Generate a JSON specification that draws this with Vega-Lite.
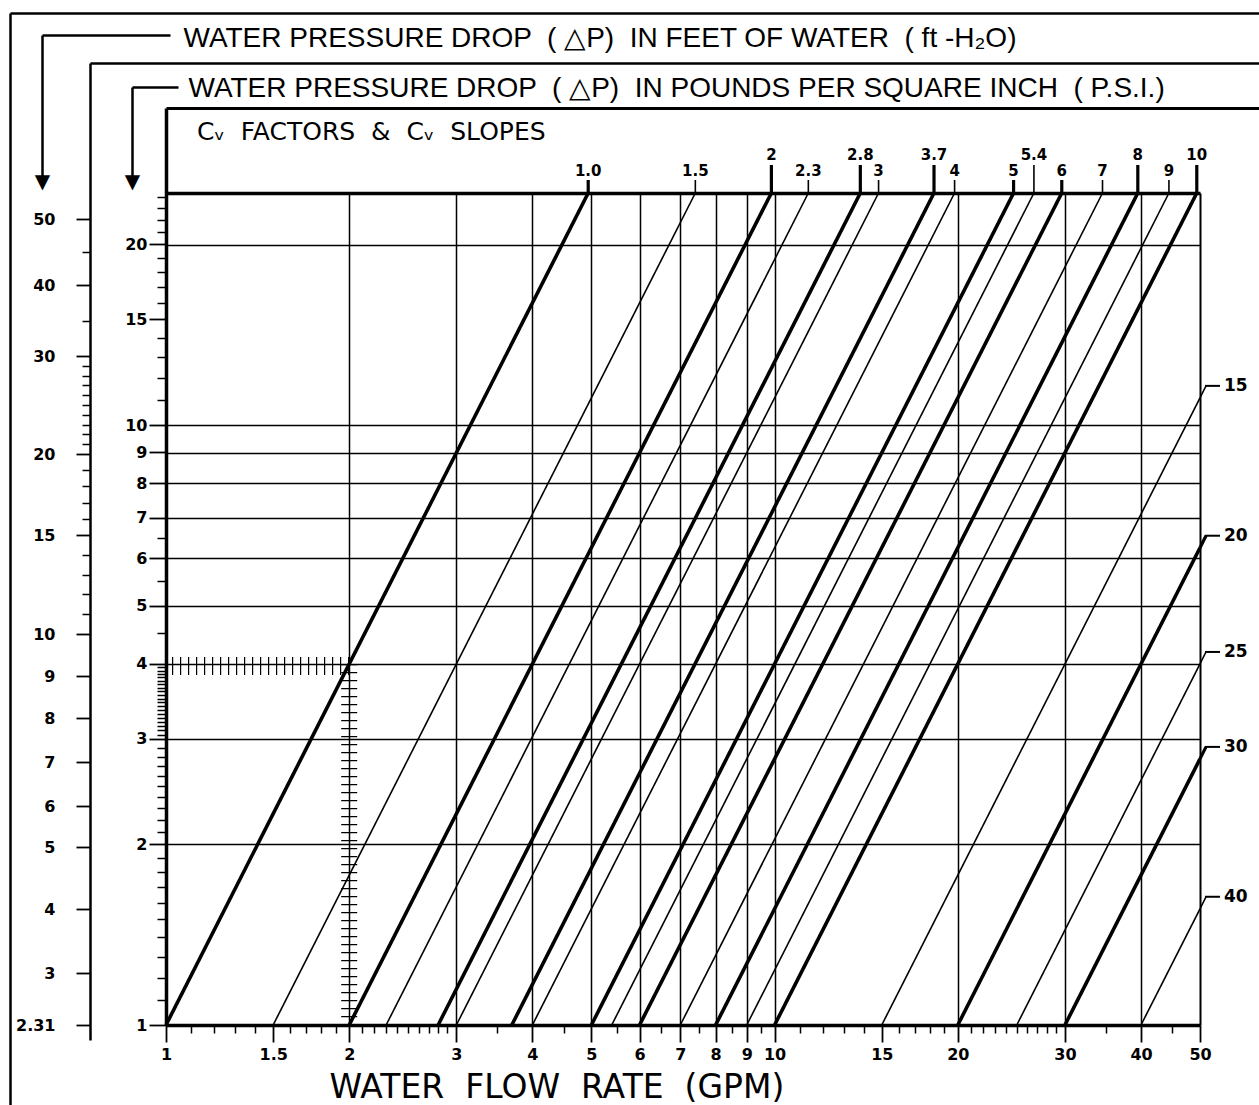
{
  "$schema": "https://vega.github.io/schema/vega-lite/v6.json",
  "width": 1034,
  "height": 832,
  "autosize": {"type": "none"},
  "padding": {"left": 166, "top": 193, "right": 59, "bottom": 80},
  "background": "white",
  "config": {
    "view": {"stroke": null},
    "axis": {
      "domainColor": "black", "tickColor": "black", "labelColor": "black", "titleColor": "black",
      "gridColor": "black", "gridOpacity": 1, "labelFont": "DejaVu Sans", "labelFontWeight": "bold",
      "labelFontSize": 16, "titleFont": "Liberation Sans", "titleFontWeight": "normal",
      "labelFlush": false, "labelOverlap": false
    }
  },
  "datasets": {
    "cv_lines": [
      {"cv": 1, "label": "1.0", "gpm": 1, "psi": 1}, {"cv": 1, "label": "1.0", "gpm": 4.94, "psi": 24.4},
      {"cv": 1.5, "label": "1.5", "gpm": 1.5, "psi": 1}, {"cv": 1.5, "label": "1.5", "gpm": 7.409, "psi": 24.4},
      {"cv": 2, "label": "2", "gpm": 2, "psi": 1}, {"cv": 2, "label": "2", "gpm": 9.879, "psi": 24.4},
      {"cv": 2.3, "label": "2.3", "gpm": 2.3, "psi": 1}, {"cv": 2.3, "label": "2.3", "gpm": 11.361, "psi": 24.4},
      {"cv": 2.8, "label": "2.8", "gpm": 2.8, "psi": 1}, {"cv": 2.8, "label": "2.8", "gpm": 13.831, "psi": 24.4},
      {"cv": 3, "label": "3", "gpm": 3, "psi": 1}, {"cv": 3, "label": "3", "gpm": 14.819, "psi": 24.4},
      {"cv": 3.7, "label": "3.7", "gpm": 3.7, "psi": 1}, {"cv": 3.7, "label": "3.7", "gpm": 18.277, "psi": 24.4},
      {"cv": 4, "label": "4", "gpm": 4, "psi": 1}, {"cv": 4, "label": "4", "gpm": 19.758, "psi": 24.4},
      {"cv": 5, "label": "5", "gpm": 5, "psi": 1}, {"cv": 5, "label": "5", "gpm": 24.698, "psi": 24.4},
      {"cv": 5.4, "label": "5.4", "gpm": 5.4, "psi": 1}, {"cv": 5.4, "label": "5.4", "gpm": 26.674, "psi": 24.4},
      {"cv": 6, "label": "6", "gpm": 6, "psi": 1}, {"cv": 6, "label": "6", "gpm": 29.638, "psi": 24.4},
      {"cv": 7, "label": "7", "gpm": 7, "psi": 1}, {"cv": 7, "label": "7", "gpm": 34.577, "psi": 24.4},
      {"cv": 8, "label": "8", "gpm": 8, "psi": 1}, {"cv": 8, "label": "8", "gpm": 39.517, "psi": 24.4},
      {"cv": 9, "label": "9", "gpm": 9, "psi": 1}, {"cv": 9, "label": "9", "gpm": 44.456, "psi": 24.4},
      {"cv": 10, "label": "10", "gpm": 10, "psi": 1}, {"cv": 10, "label": "10", "gpm": 49.396, "psi": 24.4},
      {"cv": 15, "label": "15", "gpm": 15, "psi": 1}, {"cv": 15, "label": "15", "gpm": 50, "psi": 11.111},
      {"cv": 20, "label": "20", "gpm": 20, "psi": 1}, {"cv": 20, "label": "20", "gpm": 50, "psi": 6.25},
      {"cv": 25, "label": "25", "gpm": 25, "psi": 1}, {"cv": 25, "label": "25", "gpm": 50, "psi": 4},
      {"cv": 30, "label": "30", "gpm": 30, "psi": 1}, {"cv": 30, "label": "30", "gpm": 50, "psi": 2.778},
      {"cv": 40, "label": "40", "gpm": 40, "psi": 1}, {"cv": 40, "label": "40", "gpm": 50, "psi": 1.5625}
    ],
    "example": [{"cv": 1, "gpm": 2, "psi": 4}]
  },
  "resolve": {
    "scale": {"x": "independent", "y": "independent"},
    "axis": {"x": "independent", "y": "independent"}
  },
  "layer": [
    {
      "data": {"name": "cv_lines"},
      "mark": {"type": "line", "color": "black"},
      "encoding": {
        "x": {"field": "gpm", "type": "quantitative", "scale": {"type": "log", "domain": [1, 50], "nice": false},
          "axis": {"orient": "bottom", "values": [2, 3, 4, 5, 6, 7, 8, 9, 10, 20, 30, 40], "grid": true, "gridWidth": 1.5,
            "domain": false, "ticks": false, "labels": false, "title": null}},
        "y": {"field": "psi", "type": "quantitative", "scale": {"type": "log", "domain": [1, 24.4], "nice": false},
          "axis": {"orient": "left", "values": [2, 3, 4, 5, 6, 7, 8, 9, 10, 20], "grid": true, "gridWidth": 1.5,
            "domain": false, "ticks": false, "labels": false, "title": null}},
        "detail": {"field": "cv", "type": "nominal"},
        "strokeWidth": {"condition": {"test": "indexof([1,2,2.8,3.7,5,6,8,10,20,30], datum.cv) >= 0", "value": 3.6}, "value": 1.6}
      }
    },
    {
      "data": {"name": "example"},
      "mark": {"type": "point", "opacity": 0},
      "encoding": {
        "x": {"field": "gpm", "type": "quantitative", "scale": {"type": "log", "domain": [1, 50], "nice": false},
          "axis": {"orient": "top", "domainWidth": 3.5, "ticks": false, "labels": false, "grid": false, "title": null}},
        "y": {"field": "psi", "type": "quantitative", "scale": {"type": "log", "domain": [1, 24.4], "nice": false},
          "axis": {"orient": "right", "domainWidth": 2, "ticks": false, "labels": false, "grid": false, "title": null}}
      }
    },
    {
      "data": {"name": "example"},
      "mark": {"type": "point", "opacity": 0},
      "encoding": {
        "x": {"field": "gpm", "type": "quantitative", "scale": {"type": "log", "domain": [1, 50], "nice": false},
          "axis": {"orient": "bottom", "values": [1, 1.5, 2, 3, 4, 5, 6, 7, 8, 9, 10, 15, 20, 30, 40, 50], "format": "~g",
            "tickSize": 17, "tickWidth": 1.8, "domainWidth": 3.5, "labelPadding": 4, "grid": false,
            "title": "WATER\u00a0 FLOW\u00a0 RATE\u00a0 (GPM)", "titleFont": "DejaVu Sans", "titleFontSize": 33,
            "titleAlign": "left", "titleBaseline": "alphabetic", "titleX": 163, "titleY": 72}},
        "y": {"field": "psi", "type": "quantitative", "scale": {"type": "log", "domain": [1, 33.76], "range": [832, -85], "nice": false},
          "axis": {"orient": "left", "values": [1, 2, 3, 4, 5, 6, 7, 8, 9, 10, 15, 20], "format": "~g",
            "tickSize": 17, "tickWidth": 1.8, "domainWidth": 3.5, "labelPadding": 2, "grid": false,
            "title": "WATER PRESSURE DROP \u00a0( △P) \u00a0IN POUNDS PER SQUARE INCH \u00a0( P.S.I.)",
            "titleFontSize": 28, "titleAngle": 0, "titleAlign": "left", "titleBaseline": "alphabetic", "titleX": 22, "titleY": -97}}
      }
    },
    {
      "data": {"name": "example"},
      "mark": {"type": "point", "opacity": 0},
      "encoding": {
        "x": {"field": "gpm", "type": "quantitative", "scale": {"type": "log", "domain": [1, 50], "nice": false},
          "axis": {"orient": "bottom", "values": [1.1, 1.2, 1.3, 1.4, 1.6, 1.7, 1.8, 1.9, 2.1, 2.2, 2.3, 2.4, 2.5, 2.6, 2.7, 2.8, 2.9, 3.5, 4.5, 5.5, 6.5, 7.5, 8.5, 9.5, 11, 12, 13, 14, 16, 17, 18, 19, 21, 22, 23, 24, 25, 26, 27, 28, 29, 35, 45],
            "tickSize": 8, "tickWidth": 1.5, "labels": false, "domain": false, "grid": false, "title": null}},
        "y": {"field": "psi", "type": "quantitative", "scale": {"type": "log", "domain": [1, 24.4], "nice": false},
          "axis": {"orient": "left", "values": [1.1, 1.2, 1.3, 1.4, 1.5, 1.6, 1.7, 1.8, 1.9, 2.1, 2.2, 2.3, 2.4, 2.5, 2.6, 2.7, 2.8, 2.9, 3.05, 3.1, 3.15, 3.2, 3.25, 3.3, 3.35, 3.4, 3.45, 3.5, 3.55, 3.6, 3.65, 3.7, 3.75, 3.8, 3.85, 3.9, 3.95, 4.5, 5.5, 6.5, 11, 12, 13, 14, 16, 17, 18, 19, 21, 22, 23, 24],
            "tickSize": 9, "tickWidth": 1.5, "labels": false, "domain": false, "grid": false, "title": null}}
      }
    },
    {
      "data": {"name": "example"},
      "mark": {"type": "point", "opacity": 0},
      "encoding": {
        "x": {"field": "gpm", "type": "quantitative", "scale": {"type": "linear", "domain": [0, 1], "range": [0, 1093], "nice": false, "zero": false},
          "axis": {"orient": "top", "offset": 85, "domainWidth": 3, "ticks": false, "labels": false, "grid": false, "title": null}},
        "y": {"field": "psi", "type": "quantitative",
          "scale": {"type": "linear", "domain": [2.1, 2.31, 3, 4, 5, 6, 7, 8, 9, 10, 15, 20, 30, 40, 50, 70],
            "range": [847, 832, 780, 716, 654, 613, 569, 525, 483, 441, 342, 261, 163, 92, 26, -130], "nice": false, "zero": false},
          "axis": {"orient": "left", "offset": 76, "values": [2.31, 3, 4, 5, 6, 7, 8, 9, 10, 15, 20, 30, 40, 50], "format": ".3~g",
            "tickSize": 14, "tickWidth": 1.8, "domainWidth": 2.5, "labelPadding": 21, "grid": false,
            "title": "WATER PRESSURE DROP \u00a0( △P) \u00a0IN FEET OF WATER \u00a0( ft -H₂O)",
            "titleFontSize": 28, "titleAngle": 0, "titleAlign": "left", "titleBaseline": "alphabetic", "titleX": 93, "titleY": -147}}
      }
    },
    {
      "data": {"name": "example"},
      "mark": {"type": "point", "opacity": 0},
      "encoding": {
        "x": {"field": "gpm", "type": "quantitative", "scale": {"type": "linear", "domain": [0, 1], "range": [-76, 1093], "nice": false, "zero": false},
          "axis": {"orient": "top", "offset": 130, "domainWidth": 2.5, "ticks": false, "labels": false, "grid": false, "title": null}},
        "y": {"field": "psi", "type": "quantitative",
          "scale": {"type": "linear", "domain": [2.1, 2.31, 3, 4, 5, 6, 7, 8, 9, 10, 15, 20, 30, 40, 50, 70],
            "range": [847, 832, 780, 716, 654, 613, 569, 525, 483, 441, 342, 261, 163, 92, 26, -130], "nice": false, "zero": false},
          "axis": {"orient": "left", "offset": 76, "values": [11, 12, 13, 14, 16, 17, 18, 19, 21, 22, 23, 24, 25, 26, 27, 28, 29, 35, 45],
            "tickSize": 8, "tickWidth": 1.5, "labels": false, "domain": false, "grid": false, "title": null}}
      }
    },
    {
      "data": {"name": "example"},
      "mark": {"type": "point", "opacity": 0},
      "encoding": {
        "x": {"field": "gpm", "type": "quantitative", "scale": {"type": "linear", "domain": [0, 1], "range": [-156, 1093], "nice": false, "zero": false},
          "axis": {"orient": "top", "offset": 180, "domainWidth": 2.5, "ticks": false, "labels": false, "grid": false, "title": null}},
        "y": {"field": "psi", "type": "quantitative", "scale": {"type": "linear", "domain": [0, 1], "range": [912, -180], "nice": false, "zero": false},
          "axis": {"orient": "left", "offset": 156, "domainWidth": 2.5, "ticks": false, "labels": false, "grid": false, "title": null}}
      }
    },
    {
      "data": {"name": "example"},
      "mark": {"type": "point", "opacity": 0},
      "encoding": {
        "x": {"field": "gpm", "type": "quantitative", "scale": {"type": "linear", "domain": [0, 1], "range": [-124, 4], "nice": false, "zero": false},
          "axis": {"orient": "top", "offset": 158, "domainWidth": 2.5, "ticks": false, "labels": false, "grid": false, "title": null}},
        "y": {"field": "psi", "type": "quantitative", "scale": {"type": "linear", "domain": [0, 1], "range": [-12, -158], "nice": false, "zero": false},
          "axis": {"orient": "left", "offset": 124, "domainWidth": 2.5, "ticks": false, "labels": false, "grid": false,
            "title": "▼", "titleFont": "DejaVu Sans", "titleFontSize": 20, "titleAngle": 0, "titleAlign": "center", "titleBaseline": "bottom", "titleX": 0, "titleY": -2}}
      }
    },
    {
      "data": {"name": "example"},
      "mark": {"type": "point", "opacity": 0},
      "encoding": {
        "x": {"field": "gpm", "type": "quantitative", "scale": {"type": "linear", "domain": [0, 1], "range": [-34, 12], "nice": false, "zero": false},
          "axis": {"orient": "top", "offset": 106, "domainWidth": 2.5, "ticks": false, "labels": false, "grid": false, "title": null}},
        "y": {"field": "psi", "type": "quantitative", "scale": {"type": "linear", "domain": [0, 1], "range": [-12, -106], "nice": false, "zero": false},
          "axis": {"orient": "left", "offset": 34, "domainWidth": 2.5, "ticks": false, "labels": false, "grid": false,
            "title": "▼", "titleFont": "DejaVu Sans", "titleFontSize": 20, "titleAngle": 0, "titleAlign": "center", "titleBaseline": "bottom", "titleX": 0, "titleY": -2}}
      }
    },
    {
      "data": {"name": "example"},
      "mark": {"type": "rule", "color": "black", "strokeWidth": 16, "strokeDash": [1.2, 6.8]},
      "encoding": {
        "x": {"field": "gpm", "type": "quantitative", "scale": {"type": "log", "domain": [1, 50], "nice": false}, "axis": null},
        "y": {"field": "psi", "type": "quantitative", "scale": {"type": "log", "domain": [1, 24.4], "nice": false}, "axis": null},
        "y2": {"value": 832}
      }
    },
    {
      "data": {"name": "example"},
      "mark": {"type": "rule", "color": "black", "strokeWidth": 18, "strokeDash": [1.2, 6.8], "yOffset": 2},
      "encoding": {
        "x": {"field": "gpm", "type": "quantitative", "scale": {"type": "log", "domain": [1, 50], "nice": false}, "axis": null},
        "x2": {"value": 0},
        "y": {"field": "psi", "type": "quantitative", "scale": {"type": "log", "domain": [1, 24.4], "nice": false}, "axis": null}
      }
    },
    {
      "data": {"name": "cv_lines"},
      "transform": [{"filter": "datum.psi > 24 && indexof([2,2.8,3.7,5.4,8,10], datum.cv) < 0"}],
      "mark": {"type": "rule", "color": "black", "y2Offset": -13},
      "encoding": {
        "x": {"field": "gpm", "type": "quantitative", "scale": {"type": "log", "domain": [1, 50], "nice": false}, "axis": null},
        "y": {"field": "psi", "type": "quantitative", "scale": {"type": "log", "domain": [1, 24.4], "nice": false}, "axis": null},
        "x2": {"field": "gpm"}, "y2": {"field": "psi"},
        "strokeWidth": {"condition": {"test": "indexof([1,2,2.8,3.7,5,6,8,10,20,30], datum.cv) >= 0", "value": 3.2}, "value": 1.6}
      }
    },
    {
      "data": {"name": "cv_lines"},
      "transform": [{"filter": "datum.psi > 24 && indexof([2,2.8,3.7,5.4,8,10], datum.cv) < 0"}],
      "mark": {"type": "text", "dy": -17, "baseline": "alphabetic", "align": "center", "font": "DejaVu Sans", "fontWeight": "bold", "fontSize": 15, "color": "black"},
      "encoding": {
        "x": {"field": "gpm", "type": "quantitative", "scale": {"type": "log", "domain": [1, 50], "nice": false}, "axis": null},
        "y": {"field": "psi", "type": "quantitative", "scale": {"type": "log", "domain": [1, 24.4], "nice": false}, "axis": null},
        "text": {"field": "label"}
      }
    },
    {
      "data": {"name": "cv_lines"},
      "transform": [{"filter": "datum.psi > 24 && indexof([2,2.8,3.7,5.4,8,10], datum.cv) >= 0"}],
      "mark": {"type": "rule", "color": "black", "y2Offset": -28},
      "encoding": {
        "x": {"field": "gpm", "type": "quantitative", "scale": {"type": "log", "domain": [1, 50], "nice": false}, "axis": null},
        "y": {"field": "psi", "type": "quantitative", "scale": {"type": "log", "domain": [1, 24.4], "nice": false}, "axis": null},
        "x2": {"field": "gpm"}, "y2": {"field": "psi"},
        "strokeWidth": {"condition": {"test": "indexof([1,2,2.8,3.7,5,6,8,10,20,30], datum.cv) >= 0", "value": 3.2}, "value": 1.6}
      }
    },
    {
      "data": {"name": "cv_lines"},
      "transform": [{"filter": "datum.psi > 24 && indexof([2,2.8,3.7,5.4,8,10], datum.cv) >= 0"}],
      "mark": {"type": "text", "dy": -33, "baseline": "alphabetic", "align": "center", "font": "DejaVu Sans", "fontWeight": "bold", "fontSize": 15, "color": "black"},
      "encoding": {
        "x": {"field": "gpm", "type": "quantitative", "scale": {"type": "log", "domain": [1, 50], "nice": false}, "axis": null},
        "y": {"field": "psi", "type": "quantitative", "scale": {"type": "log", "domain": [1, 24.4], "nice": false}, "axis": null},
        "text": {"field": "label"}
      }
    },
    {
      "data": {"name": "cv_lines"},
      "transform": [{"filter": "datum.gpm == 50 && datum.psi < 24"}],
      "mark": {"type": "rule", "color": "black", "x2Offset": 6, "y2Offset": -12},
      "encoding": {
        "x": {"field": "gpm", "type": "quantitative", "scale": {"type": "log", "domain": [1, 50], "nice": false}, "axis": null},
        "y": {"field": "psi", "type": "quantitative", "scale": {"type": "log", "domain": [1, 24.4], "nice": false}, "axis": null},
        "x2": {"field": "gpm"}, "y2": {"field": "psi"},
        "strokeWidth": {"condition": {"test": "indexof([20,30], datum.cv) >= 0", "value": 3.2}, "value": 1.6}
      }
    },
    {
      "data": {"name": "cv_lines"},
      "transform": [{"filter": "datum.gpm == 50 && datum.psi < 24"}],
      "mark": {"type": "rule", "color": "black", "xOffset": 5, "yOffset": -12, "x2Offset": 20, "y2Offset": -12, "strokeWidth": 2},
      "encoding": {
        "x": {"field": "gpm", "type": "quantitative", "scale": {"type": "log", "domain": [1, 50], "nice": false}, "axis": null},
        "y": {"field": "psi", "type": "quantitative", "scale": {"type": "log", "domain": [1, 24.4], "nice": false}, "axis": null},
        "x2": {"field": "gpm"}, "y2": {"field": "psi"}
      }
    },
    {
      "data": {"name": "cv_lines"},
      "transform": [{"filter": "datum.gpm == 50 && datum.psi < 24"}],
      "mark": {"type": "text", "dx": 24, "dy": -12, "baseline": "middle", "align": "left", "font": "DejaVu Sans", "fontWeight": "bold", "fontSize": 17, "color": "black"},
      "encoding": {
        "x": {"field": "gpm", "type": "quantitative", "scale": {"type": "log", "domain": [1, 50], "nice": false}, "axis": null},
        "y": {"field": "psi", "type": "quantitative", "scale": {"type": "log", "domain": [1, 24.4], "nice": false}, "axis": null},
        "text": {"field": "label"}
      }
    },
    {
      "data": {"name": "cv_lines"},
      "transform": [{"aggregate": [{"op": "min", "field": "gpm", "as": "gpm"}, {"op": "max", "field": "psi", "as": "psi"}]}],
      "mark": {"type": "text", "dx": 31, "dy": -53, "baseline": "alphabetic", "align": "left", "font": "DejaVu Sans", "fontSize": 25, "color": "black"},
      "encoding": {
        "x": {"field": "gpm", "type": "quantitative", "scale": {"type": "log", "domain": [1, 50], "nice": false}, "axis": null},
        "y": {"field": "psi", "type": "quantitative", "scale": {"type": "log", "domain": [1, 24.4], "nice": false}, "axis": null},
        "text": {"value": "Cᵥ\u00a0 FACTORS\u00a0 &\u00a0 Cᵥ\u00a0 SLOPES"}
      }
    }
  ]
}
